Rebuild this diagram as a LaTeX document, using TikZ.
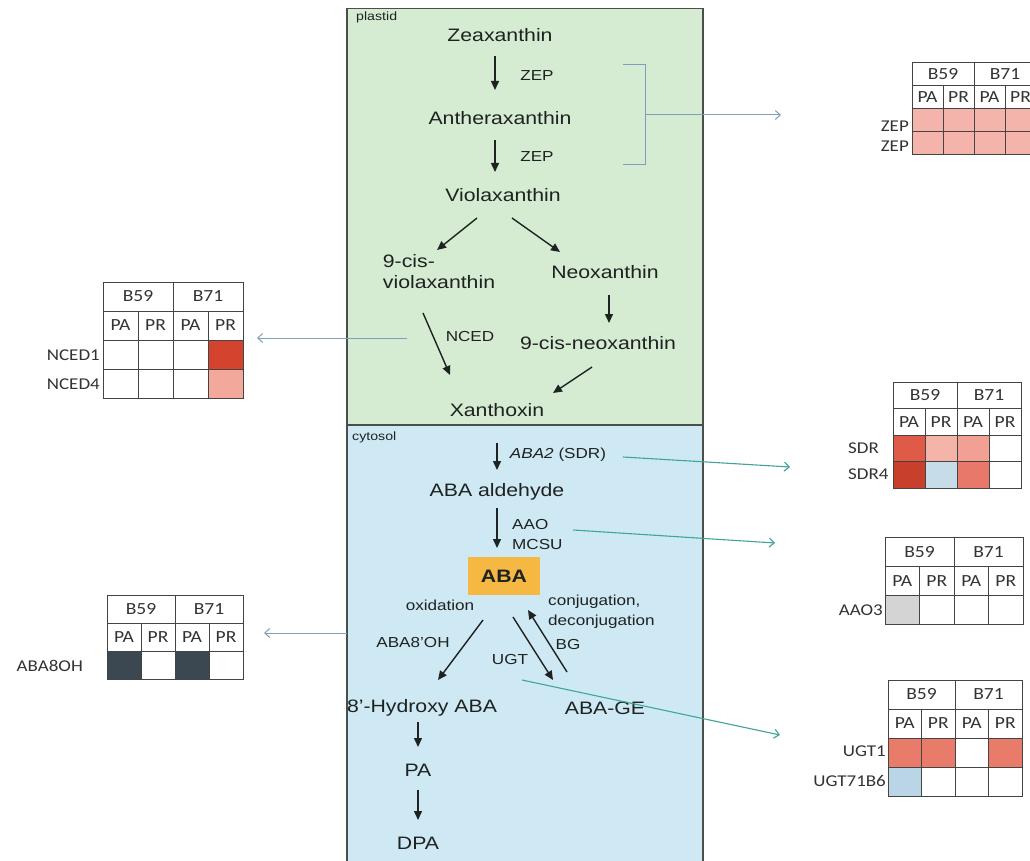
\documentclass[tikz,border=0pt]{standalone}
\usepackage{fontspec}
\setmainfont{Liberation Sans}[FakeStretch=1.18]
\newfontfamily\tabfont{Carlito}[FakeStretch=1.15]
\usetikzlibrary{arrows.meta,calc}
\definecolor{plastidfill}{HTML}{D5ECD2}
\definecolor{cytofill}{HTML}{CFE9F4}
\definecolor{boxline}{HTML}{4A4F4C}
\definecolor{txt}{HTML}{1E2220}
\definecolor{bluegrey}{HTML}{7E9EBA}
\definecolor{tealc}{HTML}{3FA596}
\definecolor{abaorange}{HTML}{F5B843}
\definecolor{tabline}{HTML}{444444}
\definecolor{tabtxt}{HTML}{333333}
\definecolor{pinkA}{HTML}{F4B3AB}
\definecolor{redD}{HTML}{D3432E}
\definecolor{pinkN}{HTML}{F3A89C}
\definecolor{sdrA}{HTML}{DF5B47}
\definecolor{sdrB}{HTML}{F5B4A8}
\definecolor{sdrC}{HTML}{F1A093}
\definecolor{sdrD}{HTML}{C83F2B}
\definecolor{lblue}{HTML}{C6DCE8}
\definecolor{sdrE}{HTML}{E8796A}
\definecolor{greyS}{HTML}{D4D4D4}
\definecolor{darkS}{HTML}{3B4852}
\definecolor{ugtR}{HTML}{E97B6B}
\definecolor{ugtB}{HTML}{BAD5E6}

\newcommand{\hmtable}[5]{% name, x0, y0, w, h
  \node[hc, minimum width={2*#4}, minimum height=#5] (#1b59) at ({#2+#4}, {#3+#5/2}) {B59};
  \node[hc, minimum width={2*#4}, minimum height=#5] (#1b71) at ({#2+3*#4}, {#3+#5/2}) {B71};
  \node[hc, minimum width=#4, minimum height=#5] (#1pa1) at ({#2+0.5*#4}, {#3+1.5*#5}) {PA};
  \node[hc, minimum width=#4, minimum height=#5] (#1pr1) at ({#2+1.5*#4}, {#3+1.5*#5}) {PR};
  \node[hc, minimum width=#4, minimum height=#5] (#1pa2) at ({#2+2.5*#4}, {#3+1.5*#5}) {PA};
  \node[hc, minimum width=#4, minimum height=#5] (#1pr2) at ({#2+3.5*#4}, {#3+1.5*#5}) {PR};
}
\newcommand{\hmcell}[8]{% name, x0, y0, w, h, col, row, colour
  \node[hc, fill=#8, minimum width=#4, minimum height=#5] (#1) at ({#2+(#6+0.5)*#4}, {#3+(#7+2.5)*#5}) {};
}

\begin{document}
\begin{tikzpicture}[x=1pt,y=-1pt,
  compartment/.style={draw=boxline, line width=1.5pt, inner sep=0pt},
  mol/.style={font=\fontsize{18}{21}\selectfont, text=txt, inner sep=1pt, align=center},
  enz/.style={font=\fontsize{14.5}{20}\selectfont, text=txt, inner sep=1pt},
  tiny/.style={font=\fontsize{12}{14}\selectfont, text=txt, inner sep=0pt},
  parr/.style={draw=txt, line width=1.4pt, -{Triangle[length=9pt,width=8pt]}},
  bl/.style={draw=bluegrey, line width=1pt, -{Straight Barb[length=5pt,width=9pt]}},
  tl/.style={draw=tealc, line width=1.1pt, -{Straight Barb[length=5pt,width=9pt]}},
  brk/.style={draw=bluegrey, line width=1pt},
  hc/.style={draw=tabline, line width=1pt, inner sep=0pt, font=\tabfont\fontsize{17}{19}\selectfont, text=tabtxt, fill=white},
  glbl/.style={font=\tabfont\fontsize{16.5}{18}\selectfont, text=tabtxt, inner sep=0pt}
]
\useasboundingbox (0,0) rectangle (1030,861);
\fill[white] (0,0) rectangle (1030,861);

% compartments
\node[compartment, fill=cytofill, minimum width=356, minimum height=440, anchor=north west] (cytosol) at (346,424) {};
\node[compartment, fill=plastidfill, minimum width=356, minimum height=416, anchor=north west] (plastid) at (346,8) {};
\node[tiny, anchor=west] (plastidlbl) at (356,17) {plastid};
\node[tiny, anchor=west] (cytolbl) at (352,437) {cytosol};

% metabolites
\node[mol] (zea) at (500,35) {Zeaxanthin};
\node[mol] (ant) at (500,118) {Antheraxanthin};
\node[mol] (vio) at (503,195) {Violaxanthin};
\node[mol, align=left] (cisvio) at (439,272) {9-cis-\\violaxanthin};
\node[mol] (neo) at (605,272) {Neoxanthin};
\node[mol] (cisneo) at (598,343) {9-cis-neoxanthin};
\node[mol] (xan) at (497,410) {Xanthoxin};
\node[mol] (abaald) at (497,492) {ABA aldehyde};
\node[mol, fill=abaorange, minimum width=72, minimum height=38, font=\bfseries\fontsize{18}{21}\selectfont] (aba) at (504,576) {ABA};
\node[mol] (hyd) at (422,708) {8'-Hydroxy ABA};
\node[mol] (abage) at (605,708) {ABA-GE};
\node[mol] (pa) at (418,770) {PA};
\node[mol] (dpa) at (418,843) {DPA};

% enzyme labels
\node[enz] (zep1) at (537,76) {ZEP};
\node[enz] (zep2) at (537,157) {ZEP};
\node[enz] (nced) at (470,337) {NCED};
\node[enz] (aba2) at (558,455) {\textit{ABA2} (SDR)};
\node[enz, align=left, anchor=west] (aao) at (511,535) {AAO\\MCSU};
\node[enz] (oxid) at (440,605) {oxidation};
\node[enz, align=left, anchor=west] (conj) at (547,612) {conjugation,\\deconjugation};
\node[enz] (aba8) at (413,643) {ABA8'OH};
\node[enz] (ugt) at (510,660) {UGT};
\node[enz] (bg) at (568,645) {BG};

% pathway arrows
\draw[parr] ($(zea)+(-5,21)$) -- ($(ant)+(-5,-28)$);
\draw[parr] ($(ant)+(-5,22)$) -- ($(vio)+(-8,-23)$);
\draw[parr] ($(vio)+(-26,23)$) -- ($(cisvio)+(-2,-22)$);
\draw[parr] ($(vio)+(9,23)$) -- ($(neo)+(-45,-20)$);
\draw[parr] ($(neo)+(4,23)$) -- ($(cisneo)+(11,-20)$);
\draw[parr] ($(cisvio)+(-16,41)$) -- ($(xan)+(-47,-35)$);
\draw[parr] ($(cisneo)+(-6,24)$) -- ($(xan)+(56,-17)$);
\draw[parr] ($(xan)+(0,33)$) -- ($(abaald)+(0,-22)$);
\draw[parr] ($(abaald)+(0,16)$) -- ($(aba)+(-7,-28)$);
\draw[parr] ($(aba)+(-21,44)$) -- ($(hyd)+(16,-28)$);
\draw[parr] ($(aba)+(9,41)$) -- ($(abage)+(-52,-28)$);
\draw[parr] ($(abage)+(-38,-36)$) -- ($(aba)+(24,34)$);
\draw[parr] ($(hyd)+(-4,14)$) -- ($(pa)+(0,-23)$);
\draw[parr] ($(pa)+(0,20)$) -- ($(dpa)+(0,-23)$);

% bracket and link connectors
\draw[brk] (623,65) -- (645,65) -- (645,165) -- (623,165);
\coordinate (zepbr) at (645,115);
\coordinate (zepend) at (781,115);
\draw[bl] (zepbr) -- (zepend);
\coordinate (ncedstart) at (407,338);
\coordinate (ncedend) at (257,338);
\draw[bl] (ncedstart) -- (ncedend);
\coordinate (oxstart) at (347,633);
\coordinate (oxend) at (264,633);
\draw[bl] (oxstart) -- (oxend);
\coordinate (sdrstart) at (623,457);
\coordinate (sdrend) at (790,467);
\draw[tl] (sdrstart) -- (sdrend);
\coordinate (aaostart) at (573,530);
\coordinate (aaoend) at (775,543);
\draw[tl] (aaostart) -- (aaoend);
\coordinate (ugtstart) at (522,680);
\coordinate (ugtend) at (780,735);
\draw[tl] (ugtstart) -- (ugtend);

% ZEP table
\hmtable{zt}{912}{63}{31}{23}
\hmcell{ztr1c1}{912}{63}{31}{23}{0}{0}{pinkA}
\hmcell{ztr1c2}{912}{63}{31}{23}{1}{0}{pinkA}
\hmcell{ztr1c3}{912}{63}{31}{23}{2}{0}{pinkA}
\hmcell{ztr1c4}{912}{63}{31}{23}{3}{0}{pinkA}
\hmcell{ztr2c1}{912}{63}{31}{23}{0}{1}{pinkA}
\hmcell{ztr2c2}{912}{63}{31}{23}{1}{1}{pinkA}
\hmcell{ztr2c3}{912}{63}{31}{23}{2}{1}{pinkA}
\hmcell{ztr2c4}{912}{63}{31}{23}{3}{1}{pinkA}
\node[glbl, anchor=east] (zeplab1) at (909,126) {ZEP};
\node[glbl, anchor=east] (zeplab2) at (909,146) {ZEP};

% NCED table
\hmtable{nt}{103}{282}{35}{29}
\hmcell{ntr1c1}{103}{282}{35}{29}{0}{0}{white}
\hmcell{ntr1c2}{103}{282}{35}{29}{1}{0}{white}
\hmcell{ntr1c3}{103}{282}{35}{29}{2}{0}{white}
\hmcell{ntr1c4}{103}{282}{35}{29}{3}{0}{redD}
\hmcell{ntr2c1}{103}{282}{35}{29}{0}{1}{white}
\hmcell{ntr2c2}{103}{282}{35}{29}{1}{1}{white}
\hmcell{ntr2c3}{103}{282}{35}{29}{2}{1}{white}
\hmcell{ntr2c4}{103}{282}{35}{29}{3}{1}{pinkN}
\node[glbl, anchor=east] (ncedlab1) at (100,355) {NCED1};
\node[glbl, anchor=east] (ncedlab4) at (100,384) {NCED4};

% SDR table
\hmtable{st}{893}{382}{32}{26.5}
\hmcell{str1c1}{893}{382}{32}{26.5}{0}{0}{sdrA}
\hmcell{str1c2}{893}{382}{32}{26.5}{1}{0}{sdrB}
\hmcell{str1c3}{893}{382}{32}{26.5}{2}{0}{sdrC}
\hmcell{str1c4}{893}{382}{32}{26.5}{3}{0}{white}
\hmcell{str2c1}{893}{382}{32}{26.5}{0}{1}{sdrD}
\hmcell{str2c2}{893}{382}{32}{26.5}{1}{1}{lblue}
\hmcell{str2c3}{893}{382}{32}{26.5}{2}{1}{sdrE}
\hmcell{str2c4}{893}{382}{32}{26.5}{3}{1}{white}
\node[glbl, anchor=west] (sdrlab) at (848,448) {SDR};
\node[glbl, anchor=west] (sdr4lab) at (848,474) {SDR4};

% AAO3 table
\hmtable{at}{885}{537}{34.5}{29.3}
\hmcell{atr1c1}{885}{537}{34.5}{29.3}{0}{0}{greyS}
\hmcell{atr1c2}{885}{537}{34.5}{29.3}{1}{0}{white}
\hmcell{atr1c3}{885}{537}{34.5}{29.3}{2}{0}{white}
\hmcell{atr1c4}{885}{537}{34.5}{29.3}{3}{0}{white}
\node[glbl, anchor=east] (aaolab) at (883,610) {AAO3};

% ABA8OH table
\hmtable{ot}{107}{595}{34}{28}
\hmcell{otr1c1}{107}{595}{34}{28}{0}{0}{darkS}
\hmcell{otr1c2}{107}{595}{34}{28}{1}{0}{white}
\hmcell{otr1c3}{107}{595}{34}{28}{2}{0}{darkS}
\hmcell{otr1c4}{107}{595}{34}{28}{3}{0}{white}
\node[glbl, anchor=east] (oxlab) at (83,666) {ABA8OH};

% UGT table
\hmtable{ut}{888}{680}{33.5}{29}
\hmcell{utr1c1}{888}{680}{33.5}{29}{0}{0}{ugtR}
\hmcell{utr1c2}{888}{680}{33.5}{29}{1}{0}{ugtR}
\hmcell{utr1c3}{888}{680}{33.5}{29}{2}{0}{white}
\hmcell{utr1c4}{888}{680}{33.5}{29}{3}{0}{ugtR}
\hmcell{utr2c1}{888}{680}{33.5}{29}{0}{1}{ugtB}
\hmcell{utr2c2}{888}{680}{33.5}{29}{1}{1}{white}
\hmcell{utr2c3}{888}{680}{33.5}{29}{2}{1}{white}
\hmcell{utr2c4}{888}{680}{33.5}{29}{3}{1}{white}
\node[glbl, anchor=east] (ugtlab1) at (886,751) {UGT1};
\node[glbl, anchor=east] (ugtlab2) at (886,781) {UGT71B6};
\end{tikzpicture}
\end{document}
